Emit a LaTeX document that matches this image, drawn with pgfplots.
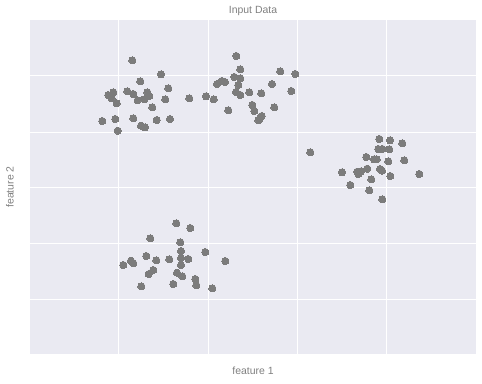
\documentclass[border=0pt]{standalone}
\usepackage{pgfplots}
\pgfplotsset{compat=1.18}
\usepackage{fontspec}
\setmainfont{Liberation Sans}
\definecolor{seabg}{HTML}{EAEAF2}
\definecolor{txt}{HTML}{808080}
\definecolor{pt}{HTML}{7C7C7C}
\begin{document}
\begin{tikzpicture}
\begin{axis}[
  at={(0,0)}, anchor=south west,
  scale only axis, width=446bp, height=334bp,
  xmin=30, xmax=476, ymin=20, ymax=354, y dir=reverse,
  xtick={118,208,297,386}, ytick={76,132,187,243,299},
  xticklabels={}, yticklabels={},
  grid=major, major grid style={white, line width=1bp},
  axis line style={draw=none}, tick style={draw=none},
  axis background/.style={fill=seabg},
  title={Input Data}, xlabel={feature 1}, ylabel={feature 2},
  title style={font=\fontsize{10.5}{12}\selectfont, text=txt, at={(axis description cs:0.5,1)}, anchor=center, yshift=3bp},
  xlabel style={font=\fontsize{10.5}{12}\selectfont, text=txt, at={(axis description cs:0.5,0)}, anchor=center, yshift=-17bp},
  ylabel style={font=\fontsize{10.5}{12}\selectfont, text=txt, at={(axis description cs:0,0.5)}, anchor=center, yshift=20bp},
]
\addplot[only marks, color=pt, mark=*, mark size=3.6bp, mark options={fill=pt, draw=pt, line width=0pt}] coordinates {
(132.3,60.3) (161,74.3) (140.3,81.3) (168.3,88.3) (108.3,95) (113.3,92.3)
(111.7,98.3) (116.7,103.3) (127.3,91.3) (133.3,94) (137.7,100.3) (144.3,99.3)
(147.3,92.3) (149.3,96) (165.3,99.3) (189.3,98.3) (206,96.3) (152.3,107.3)
(102.3,121) (115.3,119) (133.3,118.3) (156.7,120) (170,119) (141,125.7)
(145,127.3) (117.7,130.7)
(236.3,56) (240.3,69.3) (280.3,71.3) (295.3,74) (234.3,77) (240.3,78.3)
(221.7,81) (225,82) (217,84) (238.3,85) (272,84) (291.3,91) (236,92)
(240.3,95) (249.3,92.3) (261.3,93.3) (213.7,99.3) (228.3,110.3) (252.3,105)
(254.3,111) (274.3,107.3) (261.7,116) (260,118.3) (258.3,120.3)
(310.3,152.3) (379.3,139) (390,140.3) (402.3,143.3) (378.3,149) (382.3,149)
(389.3,149.3) (366.3,157) (374,159.3) (376.7,159.3) (388.3,161.3) (404.3,160.3)
(342,172.3) (357.3,171.7) (359.3,172.3) (361,171.3) (358.3,174) (367.3,168.7)
(380,169) (382,170.7) (419.3,174) (390.3,176) (371.3,179.3) (350.3,185)
(369.3,190.3) (382.3,199.3)
(176.3,223.3) (190.3,228) (150.3,238.3) (180.3,242.3) (181,251) (181,258)
(181,265) (205.3,252) (188.3,259) (169.3,259.3) (146.3,256) (156.3,260.3)
(123.3,265) (131,260.7) (133.3,263.3) (225.3,261) (153.3,270) (148.7,274)
(177,272.7) (182.3,276.3) (195.3,279) (196.3,285.3) (141.3,286.3) (173.3,284)
(212.3,288.3)
};
\end{axis}
\pgfresetboundingbox
\path[use as bounding box] (-30bp,-30bp) rectangle (452bp,354bp);
\end{tikzpicture}
\end{document}
